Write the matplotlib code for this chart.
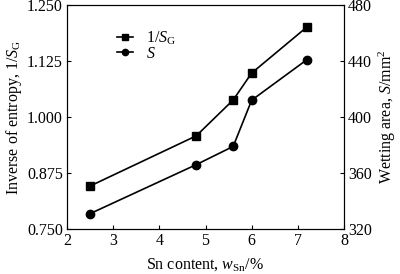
import matplotlib
matplotlib.use("Agg")
import matplotlib.pyplot as plt
from matplotlib.legend_handler import HandlerLine2D

plt.rcParams["font.family"] = ["Liberation Serif", "DejaVu Serif"]
plt.rcParams["mathtext.fontset"] = "custom"
plt.rcParams["mathtext.rm"] = "Liberation Serif"
plt.rcParams["mathtext.it"] = "Liberation Serif:italic"

SN_CONTENT = [2.5, 4.8, 5.6, 6.0, 7.2]
INV_ENTROPY = [0.846, 0.958, 1.038, 1.098, 1.201]
WETTING_AREA = [331, 366, 379, 412, 441]

X_TICKS = [2, 3, 4, 5, 6, 7, 8]
LEFT_TICKS = [0.750, 0.875, 1.000, 1.125, 1.250]
RIGHT_TICKS = [320, 360, 400, 440, 480]

FS = 11.5


class MarkerFirstHandler(HandlerLine2D):
    # marker at the left end, short line to the right of it
    def get_xdata(self, legend, xdescent, ydescent, width, height, fontsize):
        xdata = [-xdescent + 0.3 * width, -xdescent + width]
        xdata_marker = [-xdescent]
        return xdata, xdata_marker


def Main():
    fig = plt.figure(figsize=(4.0, 2.74), dpi=100)
    ax = fig.add_axes([0.1675, 0.164, 0.6925, 0.818])
    ax2 = ax.twinx()

    l1, = ax.plot(SN_CONTENT, INV_ENTROPY, color="black", marker="s", markersize=5.5,
                  linewidth=1.2, label=r"1/$S_{\rm G}$")
    l2, = ax2.plot(SN_CONTENT, WETTING_AREA, color="black", marker="o", markersize=6,
                   linewidth=1.2, label=r"$S$")

    ax.set_xlim(2, 8)
    ax.set_ylim(0.75, 1.25)
    ax2.set_ylim(320, 480)
    ax.set_xticks(X_TICKS)
    ax.set_yticks(LEFT_TICKS)
    ax.set_yticklabels([f"{v:.3f}" for v in LEFT_TICKS])
    ax2.set_yticks(RIGHT_TICKS)

    for a in (ax, ax2):
        a.tick_params(direction="in", length=3, width=0.8, labelsize=FS, pad=3)
        for s in a.spines.values():
            s.set_linewidth(0.8)

    ax.set_xlabel(r"Sn content, $w_{\rm Sn}$/%", fontsize=FS, labelpad=5)
    ax.set_ylabel(r"Inverse of entropy, 1/$S_{\rm G}$", fontsize=FS, labelpad=2)
    ax2.set_ylabel(r"Wetting area, $S$/mm$^2$", fontsize=FS, labelpad=3)

    ax.legend(handles=[l1, l2], loc="upper left", bbox_to_anchor=(0.13, 0.92),
              frameon=False, fontsize=FS, handlelength=1.5, handletextpad=0.8,
              labelspacing=-0.05, borderaxespad=0, markerscale=0.75,
              handler_map={l1: MarkerFirstHandler(), l2: MarkerFirstHandler()})

    fig.savefig("out.png", dpi=100)
    plt.close(fig)


if __name__ == "__main__":
    Main()
